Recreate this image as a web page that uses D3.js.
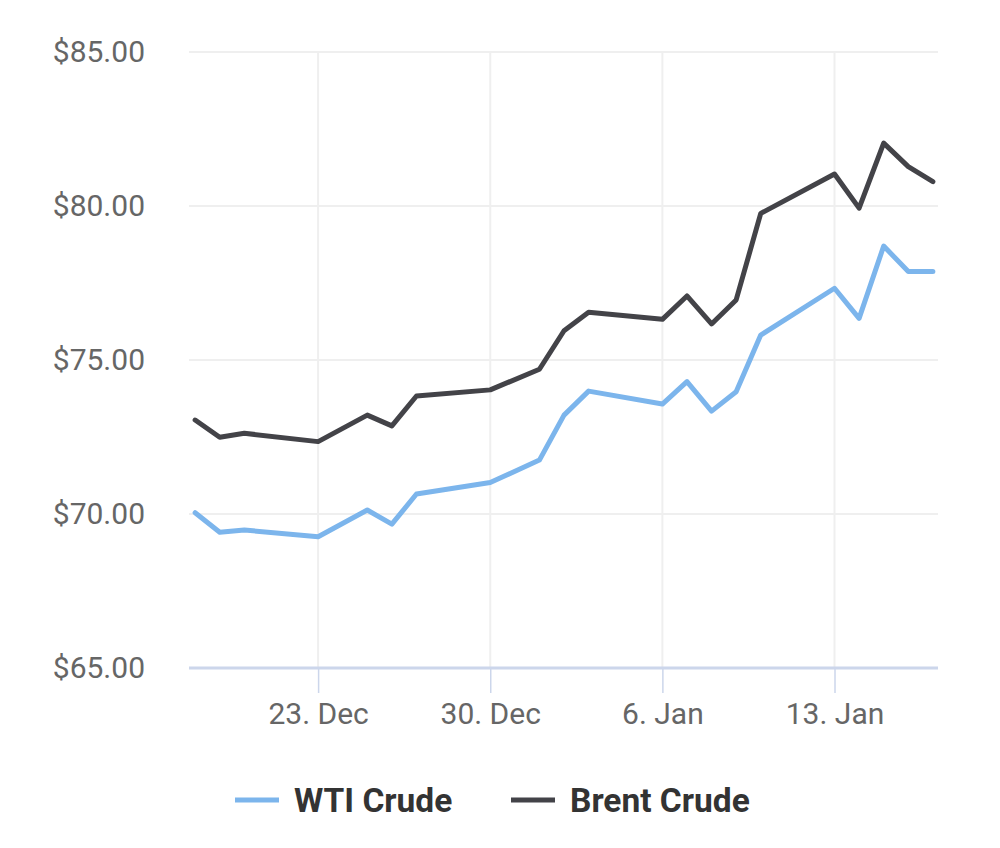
<!DOCTYPE html>
<html>
<head>
<meta charset="utf-8">
<script src="https://cdn.jsdelivr.net/npm/d3@7"></script>
<style>
    html, body { margin: 0; padding: 0; background: #ffffff; }
    svg { display: block; font-family: Roboto, "Noto Sans", sans-serif; }
</style>
</head>
<body>
<div id="chart"></div>
<script>
// ============================================================================
// DATA
// ============================================================================

const dates = [
    '2019-12-18', '2019-12-19', '2019-12-20', '2019-12-23', '2019-12-25',
    '2019-12-26', '2019-12-27', '2019-12-30', '2020-01-01', '2020-01-02',
    '2020-01-03', '2020-01-06', '2020-01-07', '2020-01-08', '2020-01-09',
    '2020-01-10', '2020-01-13', '2020-01-14', '2020-01-15', '2020-01-16',
    '2020-01-17',
];

const wtiPrices = [
    70.04, 69.41, 69.48, 69.26, 70.13,
    69.67, 70.65, 71.02, 71.75, 73.21,
    73.99, 73.57, 74.30, 73.34, 73.97,
    75.81, 77.33, 76.35, 78.70, 77.87,
    77.87,
];

const brentPrices = [
    73.05, 72.49, 72.62, 72.35, 73.21,
    72.86, 73.83, 74.03, 74.70, 75.95,
    76.55, 76.32, 77.08, 76.17, 76.95,
    79.76, 81.04, 79.93, 82.04, 81.28,
    80.79,
];

const yTicks = [65, 70, 75, 80, 85];
const xTickDates = ['2019-12-23', '2019-12-30', '2020-01-06', '2020-01-13'];

const seriesNames = ['WTI Crude', 'Brent Crude'];
const seriesColors = ['#7cb5ec', '#434348'];

// ============================================================================
// LAYOUT
// ============================================================================

const WIDTH = 1000;
const HEIGHT = 848;
const plot = { left: 189, right: 938, top: 52, bottom: 668 };

const parseDate = d3.timeParse('%Y-%m-%d');
const xDates = dates.map(parseDate);

// a few hours of padding on both ends, like the original
const x = d3.scaleTime()
    .domain([
        d3.timeHour.offset(xDates[0], -6),
        d3.timeHour.offset(xDates[xDates.length - 1], 5),
    ])
    .range([plot.left, plot.right]);

const y = d3.scaleLinear()
    .domain([65, 85])
    .range([plot.bottom, plot.top]);

const svg = d3.select('#chart')
    .append('svg')
    .attr('width', WIDTH)
    .attr('height', HEIGHT);

// horizontal gridlines
svg.append('g')
    .selectAll('line')
    .data(yTicks.filter(v => v !== 65))
    .enter()
    .append('line')
    .attr('x1', plot.left)
    .attr('x2', plot.right)
    .attr('y1', d => y(d))
    .attr('y2', d => y(d))
    .style('stroke', '#efefef')
    .style('stroke-width', 2);

// vertical gridlines
svg.append('g')
    .selectAll('line')
    .data(xTickDates.map(parseDate))
    .enter()
    .append('line')
    .attr('x1', d => x(d))
    .attr('x2', d => x(d))
    .attr('y1', plot.top)
    .attr('y2', plot.bottom)
    .style('stroke', '#efefef')
    .style('stroke-width', 2);

// y axis labels
const yAxis = d3.axisLeft(y)
    .tickValues(yTicks)
    .tickSize(0)
    .tickPadding(0)
    .tickFormat(d => '$' + d3.format('.2f')(d));

const yAxisG = svg.append('g')
    .attr('transform', `translate(145, 0)`)
    .call(yAxis);
yAxisG.select('.domain').remove();
yAxisG.selectAll('text')
    .style('font-family', 'Roboto, sans-serif')
    .style('font-size', '30px')
    .style('fill', '#666666');

// x axis
const xAxis = d3.axisBottom(x)
    .tickValues(xTickDates.map(parseDate))
    .tickSize(25)
    .tickPadding(10)
    .tickSizeOuter(0)
    .tickFormat(d3.timeFormat('%-d. %b'));

const xAxisG = svg.append('g')
    .attr('transform', `translate(0, ${plot.bottom})`)
    .call(xAxis);
xAxisG.select('.domain')
    .attr('d', `M${plot.left},0H${plot.right}`)
    .style('stroke', '#ccd6eb')
    .style('stroke-width', 3);
xAxisG.selectAll('.tick line')
    .style('stroke', '#ccd6eb')
    .style('stroke-width', 1.5);
xAxisG.selectAll('text')
    .style('font-family', 'Roboto, sans-serif')
    .style('font-size', '30px')
    .style('fill', '#666666');

// series lines
const line = d3.line()
    .x((d, i) => x(xDates[i]))
    .y(d => y(d));

[wtiPrices, brentPrices].forEach((values, i) => {
    svg.append('path')
        .datum(values)
        .attr('d', line)
        .style('fill', 'none')
        .style('stroke', seriesColors[i])
        .style('stroke-width', 5)
        .style('stroke-linejoin', 'round')
        .style('stroke-linecap', 'round');
});

// legend
const legendPos = [235, 511];
const legend = svg.append('g')
    .attr('transform', 'translate(0, 800)');

seriesNames.forEach((name, i) => {
    const item = legend.append('g')
        .attr('transform', `translate(${legendPos[i]}, 0)`);
    item.append('line')
        .attr('x1', 0)
        .attr('x2', 44)
        .attr('y1', 0)
        .attr('y2', 0)
        .style('stroke', seriesColors[i])
        .style('stroke-width', 5);
    item.append('text')
        .attr('x', 59)
        .attr('y', 12)
        .text(name)
        .style('font-family', 'Roboto, sans-serif')
        .style('font-size', '33.5px')
        .style('font-weight', 'bold')
        .style('fill', '#333333');
});
</script>
</body>
</html>
